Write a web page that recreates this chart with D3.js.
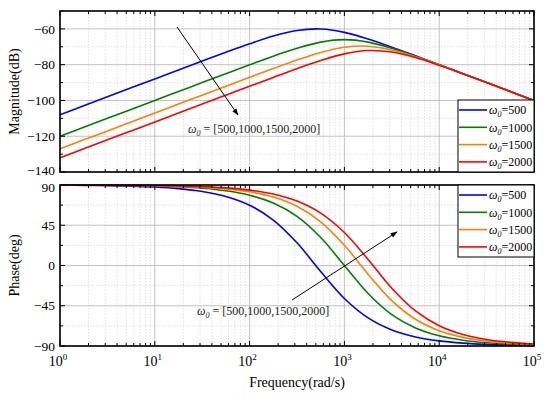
<!DOCTYPE html>
<html>
<head>
<meta charset="utf-8">
<script src="https://cdn.jsdelivr.net/npm/d3@7"></script>
<style>
  body { margin: 0; background: #fff; }
  text { font-family: "Liberation Serif", "Times New Roman", serif; }
</style>
</head>
<body>
<div id="chart"></div>
<script>
// frequency grid (rad/s), quarter decades
const freq = [1, 1.778, 3.162, 5.623, 10, 17.78, 31.62, 56.23, 100, 177.8, 316.2, 562.3,
              1000, 1778, 3162, 5623, 10000, 17783, 31623, 56234, 100000];

const omegas = [500, 1000, 1500, 2000];
const colors = ["#0000ff", "#008000", "#ff8000", "#ff0000"];

// magnitude (dB)
const mag500  = [-107.96, -102.96, -97.96, -92.96, -87.96, -82.97, -77.99, -73.07, -68.30, -63.99, -60.88, -60.06,
                 -61.94, -65.66, -70.21, -75.07, -80.02, -85.01, -90.00, -95.00, -100.00];
const mag1000 = [-120.00, -115.00, -110.00, -105.00, -100.00, -95.00, -90.01, -85.03, -80.09, -75.27, -70.83, -67.39,
                 -66.02, -67.39, -70.83, -75.27, -80.09, -85.03, -90.01, -95.00, -100.00];
const mag1500 = [-127.04, -122.04, -117.04, -112.04, -107.04, -102.04, -97.05, -92.06, -87.08, -82.16, -77.42, -73.19,
                 -70.24, -69.67, -71.76, -75.60, -80.19, -85.06, -90.02, -95.01, -100.00];
const mag2000 = [-132.04, -127.04, -122.04, -117.04, -112.04, -107.04, -102.04, -97.05, -92.06, -87.11, -82.26, -77.70,
                 -73.98, -72.10, -72.92, -76.03, -80.34, -85.11, -90.03, -95.01, -100.01];

// phase (deg)
const ph500  = [89.77, 89.59, 89.28, 88.71, 87.71, 85.93, 82.76, 77.17, 67.38, 50.86, 25.38, -6.73,
                -36.87, -58.59, -72.03, -79.84, -84.28, -86.78, -88.19, -88.98, -89.43];
const ph1000 = [89.89, 89.80, 89.64, 89.36, 88.85, 87.96, 86.38, 83.56, 78.58, 69.83, 54.90, 31.30,
                0, -31.30, -54.90, -69.83, -78.58, -83.56, -86.38, -87.96, -88.85];
const ph1500 = [89.92, 89.86, 89.76, 89.57, 89.24, 88.64, 87.58, 85.71, 82.37, 76.48, 66.19, 48.90,
                22.62, -9.70, -39.26, -60.13, -72.94, -80.36, -84.57, -86.94, -88.28];
const ph2000 = [89.94, 89.90, 89.82, 89.68, 89.43, 88.98, 88.19, 86.78, 84.28, 79.84, 72.03, 58.59,
                36.87, 6.73, -25.38, -50.86, -67.38, -77.17, -82.76, -85.93, -87.71];

const magSeries = [mag500, mag1000, mag1500, mag2000];
const phSeries = [ph500, ph1000, ph1500, ph2000];

const magTicks = [-140, -120, -100, -80, -60];
const magMinor = [-130, -110, -90, -70, -50];
const phTicks = [-90, -45, 0, 45, 90];
const phMinor = [-67.5, -22.5, 22.5, 67.5];
const decades = [1, 10, 100, 1000, 10000, 100000];

const width = 550, height = 399;
const left = 60, right = 534;

const svg = d3.select("#chart").append("svg")
  .attr("width", width).attr("height", height);

const x = d3.scaleLog().domain([1, 1e5]).range([left, right]);

const minorX = [];
decades.slice(0, -1).forEach(d => { for (let k = 2; k <= 9; k++) minorX.push(d * k); });

function panel(opts) {
  const y = d3.scaleLinear().domain(opts.domain).range([opts.bottom, opts.top]);
  const g = svg.append("g");

  // minor grid
  g.selectAll(".mgx").data(minorX).enter().append("line")
    .attr("x1", d => x(d)).attr("x2", d => x(d))
    .attr("y1", opts.top).attr("y2", opts.bottom)
    .attr("stroke", "#d0d0d0").attr("stroke-width", 0.6).attr("stroke-dasharray", "1.5,1.5");
  g.selectAll(".mgy").data(opts.minor).enter().append("line")
    .attr("x1", left).attr("x2", right)
    .attr("y1", d => y(d)).attr("y2", d => y(d))
    .attr("stroke", "#d0d0d0").attr("stroke-width", 0.6).attr("stroke-dasharray", "1.5,1.5");
  // major grid
  g.selectAll(".gx").data(decades).enter().append("line")
    .attr("x1", d => x(d)).attr("x2", d => x(d))
    .attr("y1", opts.top).attr("y2", opts.bottom)
    .attr("stroke", "#b4b4b4").attr("stroke-width", 0.8);
  g.selectAll(".gy").data(opts.ticks).enter().append("line")
    .attr("x1", left).attr("x2", right)
    .attr("y1", d => y(d)).attr("y2", d => y(d))
    .attr("stroke", "#b4b4b4").attr("stroke-width", 0.8);

  // curves
  const line = d3.line()
    .x((d, i) => x(freq[i]))
    .y(d => y(d))
    .curve(d3.curveCatmullRom.alpha(0.5));
  g.selectAll(".curve").data(opts.series).enter().append("path")
    .attr("d", d => line(d))
    .attr("fill", "none")
    .attr("stroke", (d, i) => colors[i])
    .attr("stroke-width", 1.6);

  // ticks, inside on all four sides
  const tk = g.append("g").attr("stroke", "#000").attr("stroke-width", 1);
  decades.forEach(d => {
    tk.append("line").attr("x1", x(d)).attr("x2", x(d)).attr("y1", opts.bottom).attr("y2", opts.bottom - 5);
    tk.append("line").attr("x1", x(d)).attr("x2", x(d)).attr("y1", opts.top).attr("y2", opts.top + 5);
  });
  minorX.forEach(d => {
    tk.append("line").attr("x1", x(d)).attr("x2", x(d)).attr("y1", opts.bottom).attr("y2", opts.bottom - 3);
    tk.append("line").attr("x1", x(d)).attr("x2", x(d)).attr("y1", opts.top).attr("y2", opts.top + 3);
  });
  opts.ticks.forEach(d => {
    tk.append("line").attr("x1", left).attr("x2", left + 5).attr("y1", y(d)).attr("y2", y(d));
    tk.append("line").attr("x1", right).attr("x2", right - 5).attr("y1", y(d)).attr("y2", y(d));
  });
  opts.minor.forEach(d => {
    tk.append("line").attr("x1", left).attr("x2", left + 3).attr("y1", y(d)).attr("y2", y(d));
    tk.append("line").attr("x1", right).attr("x2", right - 3).attr("y1", y(d)).attr("y2", y(d));
  });

  // frame
  g.append("rect")
    .attr("x", left).attr("y", opts.top)
    .attr("width", right - left).attr("height", opts.bottom - opts.top)
    .attr("fill", "none").attr("stroke", "#000").attr("stroke-width", 1.6);

  // y tick labels (edge labels nudged so the two panels' labels don't collide)
  g.selectAll(".yl").data(opts.ticks).enter().append("text")
    .attr("x", left - 5)
    .attr("y", d => y(d) + (d === opts.domain[0] && opts.nudgeBottom ? -2 : 0) + (d === opts.domain[1] && opts.nudgeTop ? 2 : 0))
    .attr("dy", "0.35em")
    .attr("text-anchor", "end").attr("font-size", 13.5)
    .text(d => d < 0 ? "\u2212" + Math.abs(d) : d);

  // y title
  g.append("text")
    .attr("transform", `translate(19,${(opts.top + opts.bottom) / 2}) rotate(-90)`)
    .attr("text-anchor", "middle").attr("font-size", 14)
    .text(opts.title);

  // legend
  const lg = g.append("g");
  lg.append("rect")
    .attr("x", opts.legend.x).attr("y", opts.legend.y)
    .attr("width", right - opts.legend.x).attr("height", 72)
    .attr("fill", "#fff").attr("stroke", "#000").attr("stroke-width", 1);
  omegas.forEach((w, i) => {
    const ly = opts.legend.y + 10 + i * 17.3;
    lg.append("line")
      .attr("x1", opts.legend.x + 1).attr("x2", opts.legend.x + 29)
      .attr("y1", ly).attr("y2", ly)
      .attr("stroke", colors[i]).attr("stroke-width", 1.6);
    const t = lg.append("text")
      .attr("x", opts.legend.x + 31).attr("y", ly).attr("dy", "0.35em")
      .attr("font-size", 12);
    t.append("tspan").attr("font-style", "italic").text("\u03c9");
    t.append("tspan").attr("font-style", "italic").attr("font-size", 8).attr("dy", 3).text("0");
    t.append("tspan").attr("dy", -3).text("=" + w);
  });

  return y;
}

const yMag = panel({
  domain: [-140, -50], top: 11, bottom: 172,
  ticks: magTicks, minor: magMinor, series: magSeries,
  title: "Magnitude(dB)", legend: { x: 458, y: 100 }, nudgeBottom: true
});

const yPh = panel({
  domain: [-90, 90], top: 185, bottom: 346,
  ticks: phTicks, minor: phMinor, series: phSeries,
  title: "Phase(deg)", legend: { x: 458, y: 185 }, nudgeTop: true
});

// x tick labels
const xl = svg.selectAll(".xl").data(decades).enter().append("text")
  .attr("x", d => x(d) - 2).attr("y", 366)
  .attr("text-anchor", "middle").attr("font-size", 14);
xl.append("tspan").text("10");
xl.append("tspan").attr("font-size", 9).attr("dy", -6).text((d, i) => i);

svg.append("text")
  .attr("x", (left + right) / 2).attr("y", 387)
  .attr("text-anchor", "middle").attr("font-size", 14)
  .text("Frequency(rad/s)");

// annotation arrows
svg.append("defs").append("marker")
  .attr("id", "arrow").attr("viewBox", "0 0 10 10")
  .attr("refX", 9).attr("refY", 5)
  .attr("markerWidth", 7).attr("markerHeight", 7)
  .attr("orient", "auto")
  .append("path").attr("d", "M0,1.5 L10,5 L0,8.5 Z").attr("fill", "#000");

function note(x1, y1, x2, y2, tx, ty) {
  svg.append("line")
    .attr("x1", x1).attr("y1", y1).attr("x2", x2).attr("y2", y2)
    .attr("stroke", "#000").attr("stroke-width", 1)
    .attr("marker-end", "url(#arrow)");
  const t = svg.append("text").attr("x", tx).attr("y", ty).attr("font-size", 12).attr("fill", "#222");
  t.append("tspan").attr("font-style", "italic").text("\u03c9");
  t.append("tspan").attr("font-style", "italic").attr("font-size", 8).attr("dy", 3).text("0");
  t.append("tspan").attr("dy", -3).text(" = [" + omegas.join(",") + "]");
}

note(177, 27, 238, 115, 188, 133);
note(292, 300, 397, 232, 197, 315);
</script>
</body>
</html>
